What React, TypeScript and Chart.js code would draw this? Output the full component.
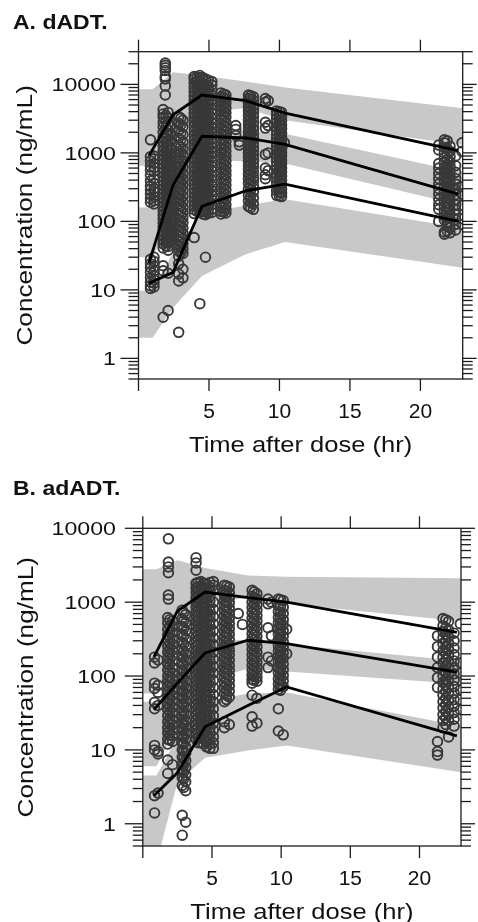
import React, { useEffect, useRef } from "react";
import { Chart, registerables } from "chart.js";
Chart.register(...registerables);

const FONT = '"Liberation Sans", Arial, sans-serif';
const BAND = "#c8c8c8";
const PT = "#383838";

// ---------------- axes ----------------
const xTickValues = [0, 5, 10, 15, 20];
const xTickLabels = ["", "5", "10", "15", "20"];
const yTickValues = [1, 10, 100, 1000, 10000];
const yTickLabels = ["1", "10", "100", "1000", "10000"];

// ---------------- Panel A (dADT) ----------------
const lineTimesA = [0.75, 2.45, 4.5, 7.6, 10.4, 22.7];
const p95A = [920, 3600, 7000, 5800, 3800, 1080];
const p50A = [25, 340, 1750, 1650, 1330, 250];
const p05A = [12.5, 18, 165, 280, 350, 100];

const bandTimesA = [0, 1, 2.45, 4.5, 7.6, 10.4, 23];
const hiTopA = [8500, 8500, 15000, 13500, 11000, 9000, 4500];
const hiBotA = [650, 650, 1500, 4000, 4500, 3000, 1300];
const midTopA = [160, 160, 900, 2400, 2100, 1900, 520];
const midBotA = [30, 30, 120, 800, 750, 700, 170];
const loTopA = [9.7, 9.7, 35, 130, 170, 210, 80];
const loBotA = [2, 2, 5.5, 16, 33, 50, 21];

const timesA = [0.85, 1.1, 1.9, 1.75, 2.1, 2.85, 3.15, 3.95, 4.35, 4.75, 5.2, 5.85, 6.2, 6.9, 7.15, 7.8, 8.15, 9.0, 9.2, 9.8, 10.15, 10.35, 21.3, 21.7, 22.1, 22.5, 22.95,
  1.95, 2.3, 3.0, 4.15, 4.55, 4.95, 6.05, 7.95, 10.0, 21.9];
const concA = [
  [1550, 880, 760, 640, 560, 470, 390, 330, 290, 250, 215, 190, 28, 24, 21, 18, 15, 13, 11.5, 10.5],
  [900, 820, 700, 610, 540, 420, 360, 300, 270, 230, 200, 180, 30, 26, 22, 19, 16, 14, 12.5, 11],
  [20500, 19000, 17500, 16000, 13000, 12000, 9500, 7000],
  [4300, 3700, 3300, 2800, 2400, 2000, 1700, 1450, 1250, 1080, 930, 800, 690, 600, 520, 450, 390, 340, 295, 255, 220, 190, 165, 143, 124, 108, 94, 82, 71, 62, 54, 47, 41, 22.5, 19, 4.0],
  [3900, 3200, 2600, 2150, 1800, 1520, 1300, 1120, 960, 830, 720, 620, 540, 470, 410, 355, 310, 270, 235, 205, 178, 155, 135, 117, 102, 88, 76, 66, 57, 49, 43, 38, 17.5, 5.0],
  [3400, 2700, 2100, 1650, 1300, 1050, 850, 690, 560, 460, 380, 315, 260, 215, 180, 150, 125, 105, 88, 74, 62, 52, 44, 37, 31, 24, 17, 13.5, 2.4],
  [3000, 2400, 1850, 1450, 1150, 930, 760, 620, 500, 410, 340, 285, 235, 195, 160, 135, 114, 96, 80, 67, 56, 47, 40, 34, 20, 15],
  [13000, 12000, 10500, 9000, 7800, 6800, 5900, 5100, 4400, 3800, 3300, 2850, 2450, 2100, 1800, 1550, 1330, 1150, 990, 850, 730, 630, 540, 465, 400, 345, 300, 260, 225, 195, 170, 148, 130, 58],
  [13500, 12500, 11000, 9500, 8200, 7100, 6100, 5300, 4600, 4000, 3450, 2950, 2550, 2200, 1900, 1620, 1400, 1200, 1030, 890, 760, 650, 560, 480, 415, 360, 310, 270, 235, 205, 178, 155, 135, 6.3],
  [12000, 10000, 8600, 7400, 6400, 5500, 4750, 4100, 3550, 3050, 2650, 2300, 1980, 1700, 1470, 1270, 1090, 940, 810, 700, 600, 520, 450, 390, 335, 290, 250, 215, 185, 160, 140, 125, 30],
  [11000, 9800, 8300, 7000, 6000, 5100, 4300, 3700, 3150, 2700, 2300, 1950, 1650, 1400, 1200, 1020, 870, 740, 630, 540, 460, 390, 330, 280, 240, 205, 175, 150, 135],
  [7500, 6600, 5700, 4900, 4200, 3600, 3100, 2650, 2250, 1900, 1600, 1350, 1150, 980, 830, 700, 600, 510, 430, 365, 310, 265, 225, 190, 160, 140, 128],
  [7000, 6100, 5300, 4500, 3850, 3300, 2800, 2400, 2050, 1750, 1480, 1250, 1060, 900, 770, 650, 550, 470, 400, 340, 290, 245, 210, 175, 150, 133],
  [2500, 2200, 1800],
  [1450, 1300],
  [7000, 6200, 5400, 4700, 4100, 3550, 3050, 2650, 2300, 2000, 1750, 1520, 1320, 1150, 1000, 870, 760, 660, 570, 490, 420, 360, 300, 240, 200, 165],
  [6600, 5800, 5000, 4400, 3800, 3300, 2850, 2450, 2150, 1850, 1620, 1420, 1230, 1070, 930, 810, 710, 620, 530, 450, 390, 330, 270, 220, 180, 150],
  [6200, 5500, 2800, 2300, 950, 600, 480, 420],
  [5800, 2500, 1000, 550],
  [4100, 3600, 3150, 2750, 2400, 2100, 1850, 1620, 1420, 1250, 1100, 960, 840, 740, 650, 570, 500, 440, 380, 330, 280, 240],
  [3900, 3400, 2950, 2550, 2250, 1950, 1700, 1500, 1320, 1150, 1010, 890, 780, 690, 600, 530, 460, 400, 350, 300, 260, 230],
  [1400],
  [1300, 1100, 700, 600, 500, 420, 350, 300, 250, 210, 175, 150, 100],
  [1550, 1400, 1200, 1000, 850, 720, 610, 520, 440, 380, 320, 270, 230, 195, 165, 140, 120, 105, 70, 65],
  [1250, 1050, 880, 740, 630, 540, 460, 390, 330, 280, 240, 205, 175, 150, 128, 110, 95, 80, 68],
  [900, 650, 520, 420, 350, 290, 245, 205, 175, 150, 125, 105, 90, 75],
  [1400, 1050, 320, 250, 170, 110, 90],
  [3500, 2900, 2350, 1950, 1650, 1400, 1200, 1030, 890, 770, 670, 580, 500, 435, 380, 330, 290, 250, 218, 190, 166, 145, 126, 110, 96, 84, 73, 64, 56, 50, 44],
  [2500, 1900, 1500, 1180, 980, 860, 750, 650, 560, 485, 420, 365, 320, 280, 245, 212, 185, 160, 140, 122, 106, 92, 80, 69, 60, 52],
  [3200, 2550, 1950, 1550, 1220, 990, 800, 650, 530, 435, 360, 300, 248, 205, 170, 142, 120, 100, 84, 70, 59, 50, 42, 35],
  [12800, 11200, 9800, 8500, 7300, 6300, 5500, 4750, 4100, 3550, 3050, 2650, 2280, 1960, 1700, 1450, 1250, 1080, 930, 800, 690, 590, 510, 440, 380, 325, 280, 242, 210, 182, 160, 140],
  [12600, 11500, 10200, 8800, 7600, 6600, 5700, 4900, 4250, 3700, 3200, 2750, 2370, 2040, 1760, 1520, 1310, 1130, 970, 840, 720, 620, 535, 460, 395, 340, 295, 255, 220, 190, 165, 145, 128],
  [11500, 9400, 8100, 7000, 6000, 5200, 4500, 3900, 3350, 2900, 2500, 2150, 1850, 1600, 1380, 1190, 1020, 880, 760, 650, 560, 485, 420, 360, 310, 268, 230, 198, 172, 150, 132],
  [7200, 6300, 5500, 4700, 4000, 3450, 2950, 2520, 2150, 1830, 1560, 1320, 1120, 950, 800, 680, 575, 490, 415, 355, 300, 255, 218, 185, 157, 137],
  [6800, 6000, 5200, 4550, 3950, 3420, 2950, 2550, 2220, 1920, 1680, 1470, 1280, 1110, 965, 840, 735, 640, 550, 470, 405, 345, 285, 230, 190, 158],
  [4000, 3500, 3050, 2650, 2320, 2020, 1780, 1560, 1370, 1200, 1050, 925, 810, 715, 625, 550, 480, 420, 365, 315, 270, 235],
  [1500, 1150, 960, 800, 680, 580, 500, 420, 360, 305, 260, 220, 185, 158, 135, 115, 98, 85, 72],
];

// ---------------- Panel B (adADT) ----------------
const lineTimesB = [0.8, 2.5, 4.5, 7.6, 10.4, 22.7];
const p95B = [180, 760, 1370, 1150, 1000, 390];
const p50B = [35, 80, 205, 305, 275, 113];
const p05B = [2.4, 4.9, 20.5, 40, 71, 15.5];

const bandTimesB = [0, 1, 2.5, 4.5, 7.6, 10.4, 23];
const hiTopB = [2800, 2800, 3700, 2900, 2300, 2200, 2100];
const hiBotB = [58, 58, 250, 1000, 1150, 950, 550];
const midTopB = [45, 45, 120, 330, 300, 270, 160];
const midBotB = [6, 6, 22, 85, 125, 115, 78];
const loTopB = [4.5, 4.5, 15, 45, 58, 60, 21];
const loBotB = [0.3, 0.3, 3.6, 7.8, 9.8, 11.5, 5];

const timesB = [0.85, 1.1, 1.85, 1.8, 2.15, 2.85, 3.1, 3.85, 4.2, 4.6, 5.1, 5.9, 6.25, 6.9, 7.2, 7.9, 8.25, 9.05, 9.3, 9.8, 10.15, 10.4, 21.3, 21.7, 22.1, 22.5, 22.95,
  1.95, 2.95, 4.0, 4.4, 4.85, 6.05, 8.05, 9.95, 21.9];
const concB = [
  [180, 150, 80, 68, 44, 36, 11.5, 10, 2.4, 1.4],
  [165, 75, 60, 40, 9.5, 8.8, 2.6],
  [7200, 3500, 3000, 2500, 1250, 1100],
  [620, 520, 430, 360, 300, 250, 210, 175, 145, 120, 100, 85, 72, 60, 50, 42, 35, 29, 24, 20, 17, 14, 12, 7.3, 4.8],
  [560, 470, 390, 320, 270, 225, 190, 160, 130, 110, 92, 78, 65, 55, 46, 38, 32, 26, 22, 18.5, 15.5, 13, 6.3],
  [780, 600, 470, 370, 290, 230, 185, 150, 120, 97, 78, 63, 51, 42, 34, 28, 23, 19, 15.5, 12.5, 10, 8, 6.5, 5.2, 4.2, 3.3, 1.3, 0.7],
  [680, 530, 410, 320, 255, 205, 165, 135, 108, 87, 70, 57, 46, 38, 31, 25, 21, 17, 14, 11, 9, 7.2, 5.8, 4.6, 3.7, 2.8, 1.05],
  [4000, 3400, 2700, 1800, 1550, 1350, 1150, 1000, 860, 740, 640, 550, 470, 400, 345, 295, 255, 220, 190, 163, 140, 120, 103, 88, 76, 65, 56, 48, 41, 35, 30, 26, 22, 19, 16.5, 14],
  [1900, 1650, 1420, 1220, 1050, 900, 780, 670, 580, 500, 430, 370, 320, 275, 235, 200, 172, 148, 127, 109, 94, 81, 70, 60, 51, 44, 38, 32.5, 28, 24, 20.5, 17.5, 15, 12.5],
  [1750, 1500, 1300, 1120, 960, 830, 710, 610, 525, 450, 385, 330, 285, 245, 210, 180, 155, 133, 114, 98, 84, 72, 62, 53, 46, 39, 33.5, 29, 25, 21, 18, 15.5, 13, 11],
  [1900, 1700, 1450, 1000, 800, 640, 510, 410, 330, 265, 210, 170, 135, 110, 88, 70, 56, 45, 36, 29, 23, 18.5, 15, 12.5, 10.5],
  [1700, 1450, 1250, 1050, 900, 770, 650, 550, 470, 400, 340, 290, 245, 210, 180, 155, 130, 112, 95, 81, 69, 58, 45, 24, 20],
  [1600, 1350, 1150, 980, 830, 700, 600, 510, 435, 370, 315, 265, 225, 195, 165, 140, 120, 102, 87, 74, 62, 52, 22],
  [700],
  [500],
  [1450, 1200, 1000, 850, 720, 610, 520, 440, 375, 320, 270, 230, 195, 165, 140, 120, 103, 90, 80, 55, 28, 21],
  [1300, 1100, 920, 780, 660, 560, 475, 405, 345, 295, 250, 210, 180, 153, 130, 112, 96, 85, 50, 23],
  [1100, 950, 450, 180, 130],
  [1000, 350, 160],
  [1100, 900, 750, 620, 520, 440, 370, 310, 260, 220, 185, 155, 130, 110, 92, 78, 66, 36, 18],
  [1050, 850, 700, 580, 490, 410, 345, 290, 245, 205, 175, 145, 122, 102, 86, 72, 16],
  [430, 200],
  [350, 250, 180, 130, 95, 70, 13, 9.5, 8.5],
  [600, 480, 400, 330, 270, 220, 180, 150, 120, 100, 82, 67, 55, 45, 37, 30, 25, 20],
  [550, 420, 340, 280, 230, 190, 155, 128, 105, 86, 70, 58, 47, 38, 31, 25, 15],
  [380, 300, 240, 195, 160, 130, 107, 88, 72, 59, 48, 39, 32, 26, 21],
  [510, 150, 110, 65, 48, 35],
  [580, 480, 400, 335, 280, 235, 200, 168, 140, 115, 96, 82, 69, 57, 48, 40, 33, 27, 23, 19, 16, 13.5],
  [720, 560, 440, 345, 270, 215, 175, 142, 114, 92, 74, 60, 49, 40, 32, 26, 22, 18, 14.8, 12, 9.5, 7.6, 6.2, 5, 4, 3.1],
  [1850, 1600, 1380, 1180, 1020, 880, 760, 655, 565, 485, 420, 360, 310, 268, 230, 198, 170, 146, 125, 108, 93, 80, 69, 59, 50, 43, 37, 32, 27.5, 23.5, 20, 17, 14.5, 12.5],
  [1800, 1550, 1340, 1150, 990, 850, 735, 630, 545, 470, 405, 348, 300, 258, 222, 190, 164, 141, 121, 104, 89, 77, 66, 57, 49, 42, 36, 31, 26.5, 22.5, 19, 16.5, 14, 12],
  [1850, 1600, 1400, 1200, 1030, 880, 760, 650, 560, 480, 410, 350, 300, 258, 220, 188, 160, 137, 117, 100, 86, 74, 63, 54, 46, 39, 33, 28, 24, 20, 17, 14.5, 12, 10.5],
  [1650, 1400, 1200, 1020, 870, 740, 625, 530, 450, 385, 328, 278, 235, 200, 172, 147, 125, 107, 91, 77, 65, 55, 48],
  [1380, 1150, 960, 810, 690, 585, 495, 420, 360, 308, 260, 220, 187, 159, 135, 116, 99, 87],
  [1080, 880, 720, 600, 505, 425, 358, 300, 252, 212, 180, 150, 126, 106, 89, 75, 64],
  [580, 450, 370, 300, 245, 200, 165, 135, 110, 90, 75, 62, 50, 41, 33, 27, 22],
];

// ---------------- helpers ----------------
type Pt = { x: number; y: number };
const pairs = (xs: number[], ys: number[]): Pt[] => xs.map((x, i) => ({ x, y: ys[i] }));

function txt(ctx: CanvasRenderingContext2D, s: string, x: number, y: number, size: number, o: any = {}) {
  ctx.save();
  ctx.translate(x, y);
  if (o.rot) ctx.rotate(o.rot);
  ctx.scale(o.sx ?? 1, 1);
  ctx.font = `${o.bold ? "bold " : ""}${size}px ${o.family ?? FONT}`;
  ctx.textAlign = o.align ?? "center";
  ctx.textBaseline = "alphabetic";
  ctx.fillStyle = "#111";
  ctx.fillText(s, 0, 0);
  ctx.restore();
}

const latticeAxes = {
  id: "latticeAxes",
  afterDraw(chart: any, _args: any, o: any) {
    const { ctx, chartArea: ca } = chart;
    const xs = chart.scales.x;
    const ys = chart.scales.y;
    ctx.save();
    ctx.strokeStyle = "#1c1c1c";
    ctx.lineWidth = 1.3;
    const seg = (x1: number, y1: number, x2: number, y2: number) => {
      ctx.beginPath();
      ctx.moveTo(x1, y1);
      ctx.lineTo(x2, y2);
      ctx.stroke();
    };
    ctx.strokeRect(ca.left, ca.top, ca.right - ca.left, ca.bottom - ca.top);
    xTickValues.forEach((v, i) => {
      const px = xs.getPixelForValue(v);
      seg(px, ca.top, px, ca.top - 12);
      seg(px, ca.bottom, px, ca.bottom + 12);
      if (xTickLabels[i]) txt(ctx, xTickLabels[i], px, ca.bottom + o.xLabelDy, o.xTickSize, { sx: o.xTickSx });
    });
    const yMin = ys.min;
    const yMax = ys.max;
    for (let e = -1; e <= 5; e++) {
      for (let k = 1; k <= 9; k++) {
        const v = k * Math.pow(10, e);
        if (v < yMin * 0.999 || v > yMax * 1.001) continue;
        const py = ys.getPixelForValue(v);
        const major = k === 1;
        seg(ca.left, py, ca.left - (major ? 18 : 10), py);
        seg(ca.right, py, ca.right + (major ? 14 : 10), py);
      }
    }
    yTickValues.forEach((v, i) => {
      const py = ys.getPixelForValue(v);
      txt(ctx, yTickLabels[i], o.yLabelRight, py + o.yTickSize * 0.36, o.yTickSize, { align: "right", sx: o.yTickSx });
    });
    const cx = (ca.left + ca.right) / 2;
    const cy = (ca.top + ca.bottom) / 2;
    txt(ctx, "Time after dose (hr)", cx, ca.bottom + o.xTitleDy, o.titleSize, { sx: o.titleSx });
    txt(ctx, "Concentration (ng/mL)", o.yTitleX, cy, o.titleSize, { rot: -Math.PI / 2, sx: o.yTitleSx });
    txt(ctx, o.panel, 13, o.panelY, o.panelSize, { bold: true, align: "left", sx: o.panelSx });
    ctx.restore();
  },
};

function makeConfig(p: any) {
  const ds: any[] = [];
  const bands = [
    [p.hiTop, p.hiBot],
    [p.midTop, p.midBot],
    [p.loTop, p.loBot],
  ];
  bands.forEach(([top, bot]) => {
    ds.push({ type: "line", data: pairs(p.bandTimes, top), borderWidth: 0, borderColor: "rgba(0,0,0,0)", pointRadius: 0, fill: "+1", backgroundColor: BAND, order: 3, tension: 0 });
    ds.push({ type: "line", data: pairs(p.bandTimes, bot), borderWidth: 0, borderColor: "rgba(0,0,0,0)", pointRadius: 0, fill: false, order: 3, tension: 0 });
  });
  const pts: Pt[] = [];
  p.times.forEach((t: number, i: number) => p.conc[i].forEach((c: number) => pts.push({ x: t, y: c })));
  ds.push({ type: "scatter", data: pts, pointRadius: 4.8, pointBorderWidth: 1.9, borderColor: PT, pointBorderColor: PT, backgroundColor: "rgba(0,0,0,0)", pointBackgroundColor: "rgba(0,0,0,0)", order: 2 });
  [p.p95, p.p50, p.p05].forEach((v: number[]) =>
    ds.push({ type: "line", data: pairs(p.lineTimes, v), borderColor: "#000", borderWidth: 2.8, pointRadius: 0, fill: false, order: 1, tension: 0 })
  );
  return {
    type: "scatter",
    data: { datasets: ds },
    options: {
      responsive: false,
      animation: false,
      devicePixelRatio: 1,
      layout: { padding: p.pad },
      scales: {
        x: { type: "linear", display: false, min: 0, max: 23 },
        y: { type: "logarithmic", display: false, min: p.yMin, max: p.yMax },
      },
      plugins: {
        legend: { display: false },
        tooltip: { enabled: false },
        latticeAxes: p.axes,
      },
    },
    plugins: [latticeAxes],
  } as any;
}

const axesCommon = {
  xTickSize: 20, xTickSx: 1.05, xLabelDy: 39,
  yTickSize: 19, yTickSx: 1.22, yLabelRight: 116,
  titleSize: 22, titleSx: 1.16, yTitleSx: 1.19, xTitleDy: 73,
  panelSize: 20, panelSx: 1.15,
};

const panelA = {
  lineTimes: lineTimesA, p95: p95A, p50: p50A, p05: p05A,
  bandTimes: bandTimesA, hiTop: hiTopA, hiBot: hiBotA, midTop: midTopA, midBot: midBotA, loTop: loTopA, loBot: loBotA,
  times: timesA, conc: concA, yMin: 0.5, yMax: 30000,
  pad: { left: 138.5, right: 478 - 462.7, top: 51.7, bottom: 460 - 379 },
  axes: { ...axesCommon, yTitleX: 32, panel: "A. dADT.", panelY: 29 },
};
const panelB = {
  lineTimes: lineTimesB, p95: p95B, p50: p50B, p05: p05B,
  bandTimes: bandTimesB, hiTop: hiTopB, hiBot: hiBotB, midTop: midTopB, midBot: midBotB, loTop: loTopB, loBot: loBotB,
  times: timesB, conc: concB, yMin: 0.5, yMax: 10000,
  pad: { left: 142.8, right: 478 - 461, top: 68.3, bottom: 462 - 386 },
  axes: { ...axesCommon, yTitleX: 33, panel: "B. adADT.", panelY: 35 },
};

export default function App() {
  const refA = useRef<HTMLCanvasElement>(null);
  const refB = useRef<HTMLCanvasElement>(null);
  useEffect(() => {
    const a = new Chart(refA.current as HTMLCanvasElement, makeConfig(panelA));
    const b = new Chart(refB.current as HTMLCanvasElement, makeConfig(panelB));
    return () => {
      a.destroy();
      b.destroy();
    };
  }, []);
  return (
    <div style={{ position: "absolute", left: 0, top: 0, width: 478, height: 922, background: "#fff", overflow: "hidden" }}>
      <canvas ref={refA} width={478} height={460} style={{ position: "absolute", left: 0, top: 0, width: 478, height: 460 }} />
      <canvas ref={refB} width={478} height={462} style={{ position: "absolute", left: 0, top: 460, width: 478, height: 462 }} />
    </div>
  );
}
